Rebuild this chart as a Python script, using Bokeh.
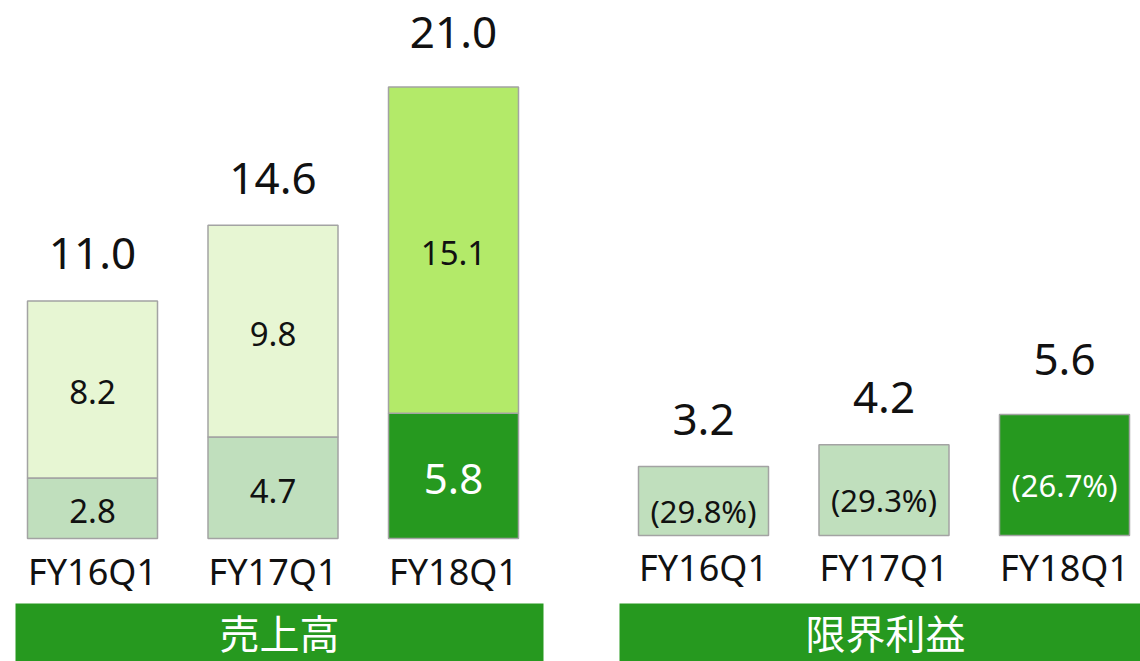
from bokeh.plotting import figure
from bokeh.layouts import row
from bokeh.models import ColumnDataSource, Range1d
from bokeh.core.properties import value
from bokeh.embed import file_html
from bokeh.resources import INLINE

# ---------------- data ----------------
quarters = ["FY16Q1", "FY17Q1", "FY18Q1"]
sales_lower = [2.8, 4.7, 5.8]          # lower segment of 売上高
sales_upper = [8.2, 9.8, 15.1]         # upper segment of 売上高
sales_total = [11.0, 14.6, 21.0]       # totals shown above bars
margin_value = [3.2, 4.2, 5.6]         # 限界利益
margin_rate = ["(29.8%)", "(29.3%)", "(26.7%)"]
panel_titles = ["売上高", "限界利益"]

# ---------------- style ----------------
LOWER_COLORS = ["#c0dfbd", "#c0dfbd", "#26991f"]
UPPER_COLORS = ["#e7f6d3", "#e7f6d3", "#b3ea69"]
MARGIN_COLORS = ["#c0dfbd", "#c0dfbd", "#26991f"]
BANNER_COLOR = "#26991f"
EDGE = "#a3a3a3"
FONT = value("Noto Sans")
CJK = value("Noto Sans CJK JP")
TOTAL_OFFSETS = [-47, -47, -55]       # label lift above bar tops (px)

PX_UNIT = 21.6      # pixels per data unit (vertical)
SLOT = 180.5        # pixels per category (horizontal)
BAR_W = 130 / SLOT
H = 661


def make_fig(width, first_center_px, baseline_px):
    x0 = -first_center_px / SLOT
    p = figure(width=width, height=H, output_backend="svg", toolbar_location=None,
               x_axis_type=None, y_axis_type=None, min_border=0,
               x_range=Range1d(x0, x0 + width / SLOT),
               y_range=Range1d(-(H - baseline_px) / PX_UNIT, baseline_px / PX_UNIT))
    p.grid.visible = False
    p.outline_line_color = None
    p.background_fill_color = "white"
    p.border_fill_color = "white"
    return p


def px_x(px, first_center_px):
    return (px - first_center_px) / SLOT


def px_y(py, baseline_px):
    return (baseline_px - py) / PX_UNIT


idx = list(range(len(quarters)))

# ---------------- left panel: 売上高 ----------------
L_W, L_C0, L_BASE = 578, 92, 538
p1 = make_fig(L_W, L_C0, L_BASE)

stack_top = [a + b for a, b in zip(sales_lower, sales_upper)]
src1 = ColumnDataSource(dict(
    x=idx, q=quarters, lower=sales_lower, upper=sales_upper, top=stack_top,
    total=[f"{v:.1f}" for v in sales_total],
    lower_lbl=[f"{v:.1f}" for v in sales_lower],
    upper_lbl=[f"{v:.1f}" for v in sales_upper],
    lower_mid=[v / 2 for v in sales_lower],
    upper_mid=[a + b / 2 for a, b in zip(sales_lower, sales_upper)],
    lower_color=LOWER_COLORS, upper_color=UPPER_COLORS,
    lower_txt=["#111111", "#111111", "#ffffff"],
    lower_size=["33px", "33px", "42px"],
    toff=TOTAL_OFFSETS,
))
p1.vbar(x="x", width=BAR_W, bottom=0, top="lower", fill_color="lower_color",
        line_color=EDGE, line_width=1.5, source=src1)
p1.vbar(x="x", width=BAR_W, bottom="lower", top="top", fill_color="upper_color",
        line_color=EDGE, line_width=1.5, source=src1)
p1.text(x="x", y="lower_mid", text="lower_lbl", source=src1, text_font=FONT,
        text_font_size="lower_size", text_color="lower_txt", text_align="center",
        text_baseline="middle", y_offset=3)
p1.text(x="x", y="upper_mid", text="upper_lbl", source=src1, text_font=FONT,
        text_font_size="33px", text_color="#111111", text_align="center",
        text_baseline="middle", y_offset=3)
p1.text(x="x", y="top", text="total", source=src1, text_font=FONT,
        text_font_size="44px", text_color="#111111", text_align="center",
        text_baseline="middle", y_offset="toff")
p1.text(x="x", y=0, text="q", source=src1, text_font=FONT,
        text_font_size="36px", text_color="#111111", text_align="center",
        text_baseline="middle", y_offset=33)
# banner
p1.quad(left=px_x(15, L_C0), right=px_x(543, L_C0), top=px_y(603, L_BASE),
        bottom=px_y(H + 5, L_BASE), fill_color=BANNER_COLOR, line_color=None)
p1.text(x=[px_x(279, L_C0)], y=[px_y(631, L_BASE)], text=[panel_titles[0]],
        text_font=CJK, text_font_size="40px", text_color="white",
        text_align="center", text_baseline="middle")

# ---------------- right panel: 限界利益 ----------------
R_W, R_C0, R_BASE = 562, 125, 535
p2 = make_fig(R_W, R_C0, R_BASE)
src2 = ColumnDataSource(dict(
    x=idx, q=quarters, v=margin_value, mid=[v / 2 for v in margin_value],
    lbl=[f"{v:.1f}" for v in margin_value], rate=margin_rate,
    color=MARGIN_COLORS, rate_txt=["#111111", "#111111", "#ffffff"],
    toff=TOTAL_OFFSETS,
))
p2.vbar(x="x", width=BAR_W, bottom=0, top="v", fill_color="color",
        line_color=EDGE, line_width=1.5, source=src2)
p2.text(x="x", y="mid", text="rate", source=src2, text_font=FONT,
        text_font_size="31px", text_color="rate_txt", text_align="center",
        text_baseline="middle", y_offset=10)
p2.text(x="x", y="v", text="lbl", source=src2, text_font=FONT,
        text_font_size="44px", text_color="#111111", text_align="center",
        text_baseline="middle", y_offset="toff")
p2.text(x="x", y=0, text="q", source=src2, text_font=FONT,
        text_font_size="36px", text_color="#111111", text_align="center",
        text_baseline="middle", y_offset=32)
p2.quad(left=px_x(41, R_C0), right=px_x(R_W + 10, R_C0), top=px_y(603, R_BASE),
        bottom=px_y(H + 5, R_BASE), fill_color=BANNER_COLOR, line_color=None)
p2.text(x=[px_x(307, R_C0)], y=[px_y(631, R_BASE)], text=[panel_titles[1]],
        text_font=CJK, text_font_size="40px", text_color="white",
        text_align="center", text_baseline="middle")

layout = row(p1, p2, spacing=0)
open("out.html", "w").write(file_html(layout, INLINE))
